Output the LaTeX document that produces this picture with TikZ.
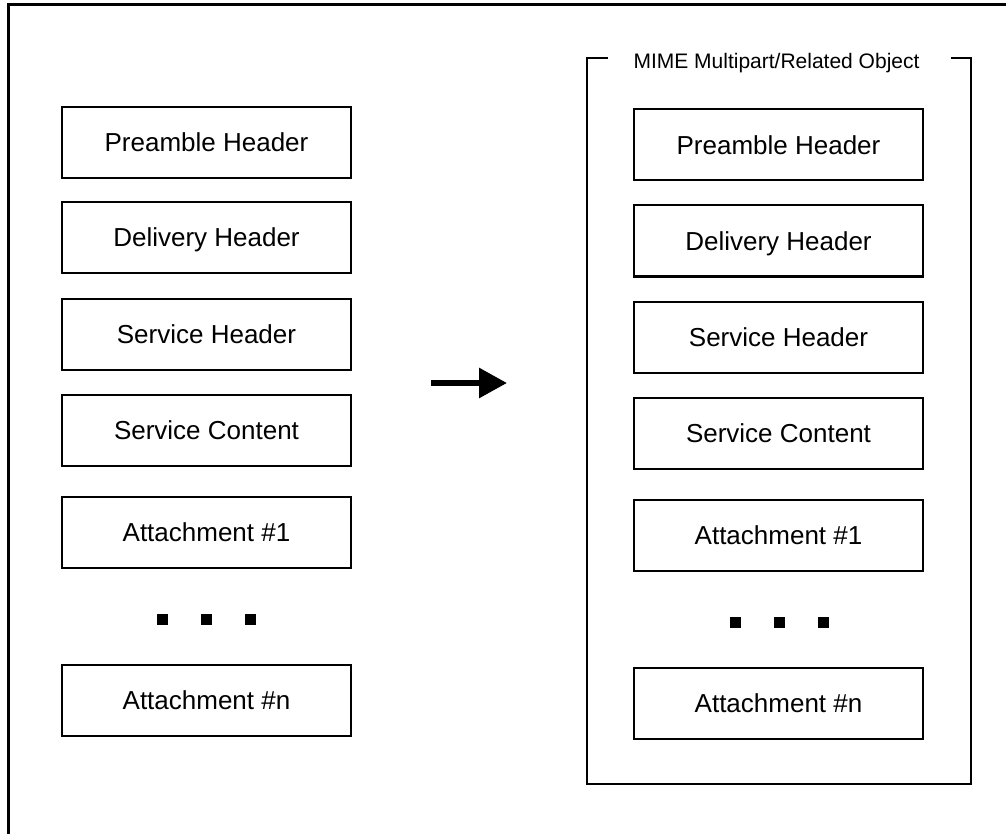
\documentclass[tikz,border=0pt]{standalone}
\usepackage{fontspec}
\setmainfont{Liberation Sans}
\usetikzlibrary{arrows.meta}
\begin{document}
\begin{tikzpicture}[x=1pt,y=-1pt,
  partbox/.style={draw=black, line width=2pt, minimum width=289pt, minimum height=71pt,
    inner sep=0pt, font=\fontsize{26}{30}\selectfont, text height=18.6pt, text depth=0pt},
  dotsq/.style={fill=black, minimum size=11pt, inner sep=0pt, draw=none},
  frameline/.style={line width=2pt, draw=black}]
\useasboundingbox (0,0) rectangle (1006,834);
\fill[white] (0,0) rectangle (1006,834);
% outer frame (right and bottom edges lie outside the picture)
\draw[line width=3pt] (8,4.5) rectangle (1016,846);
% left column
\node[partbox] (lpre) at (206.5,142.5) {Preamble Header};
\node[partbox] (ldel) at (206.5,237.5) {Delivery Header};
\node[partbox] (lsh)  at (206.5,334) {Service Header};
\node[partbox] (lsc)  at (206.5,430) {Service Content};
\node[partbox] (la1)  at (206.5,532.5) {Attachment \#1};
\node[dotsq] (ld1) at (162,619) {};
\node[dotsq] (ld2) at (206,619) {};
\node[dotsq] (ld3) at (250,619) {};
\node[partbox] (lan)  at (206.5,700.5) {Attachment \#n};
% arrow
\coordinate (arrS) at (431,383);
\coordinate (arrE) at (507,383);
\draw[line width=6pt, -{Triangle[length=28pt,width=29pt]}] (arrS) -- (arrE);
% container
\coordinate (cA) at (608,58);
\coordinate (cB) at (587,58);
\coordinate (cC) at (587,784);
\coordinate (cD) at (971,784);
\coordinate (cE) at (971,58);
\coordinate (cF) at (951,58);
\draw[frameline] (cA) -- (cB) -- (cC) -- (cD) -- (cE) -- (cF);
\node[font=\fontsize{21}{25}\selectfont, inner sep=0pt, text height=15pt, text depth=0pt] (mime) at (776.5,61) {MIME Multipart/Related Object};
% right column
\node[partbox] (rpre) at (778.5,145) {Preamble Header};
\node[partbox] (rdel) at (778.5,241) {Delivery Header};
\node[partbox] (rsh)  at (778.5,337) {Service Header};
\node[partbox] (rsc)  at (778.5,433) {Service Content};
\node[partbox] (ra1)  at (778.5,535) {Attachment \#1};
\node[dotsq] (rd1) at (735.5,622) {};
\node[dotsq] (rd2) at (779.5,622) {};
\node[dotsq] (rd3) at (823.5,622) {};
\node[partbox] (ran)  at (778.5,703) {Attachment \#n};
\end{tikzpicture}
\end{document}
